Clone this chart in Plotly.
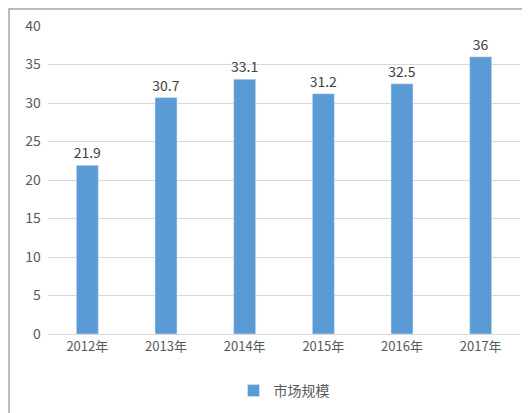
import plotly.graph_objects as go

categories = ["2012年", "2013年", "2014年", "2015年", "2016年", "2017年"]
values = [21.9, 30.7, 33.1, 31.2, 32.5, 36]
labels = ["21.9", "30.7", "33.1", "31.2", "32.5", "36"]
series_name = "市场规模"

W, H = 530, 413
l, r, t, b = 40, 18, 18, 87
pw, ph = W - l - r, H - t - b

def px(x):
    return (x - l) / pw

def py(y):
    return (H - b - y) / ph

fig = go.Figure(go.Bar(
    x=categories, y=values, name=series_name, text=labels,
    textposition="outside", marker_color="#5b9bd5", constraintext="none",
    textfont=dict(size=14, color="#404040"), cliponaxis=False,
))
fig.update_layout(
    width=W, height=H, margin=dict(l=l, r=r, t=t, b=b, autoexpand=False),
    paper_bgcolor="white", plot_bgcolor="white",
    font=dict(family="Noto Sans CJK SC", size=13, color="#595959"),
    bargap=0.72, showlegend=True,
    legend=dict(orientation="h", x=0.5, xanchor="center", y=py(383), yanchor="middle",
                font=dict(size=14, color="#595959"), itemwidth=30),
    xaxis=dict(showline=True, linecolor="#d9d9d9", ticks="", tickfont=dict(size=13)),
    yaxis=dict(range=[0, 40], dtick=5, showgrid=True, gridcolor="#d9d9d9",
               zeroline=False, showline=False, tickfont=dict(size=14), ticksuffix="  "),
    shapes=[dict(type="rect", xref="paper", yref="paper",
                 x0=px(1), x1=px(527), y0=py(410), y1=py(1),
                 line=dict(color="#a6a6a6", width=1.5), layer="below")],
)
fig.write_html("out.html")
